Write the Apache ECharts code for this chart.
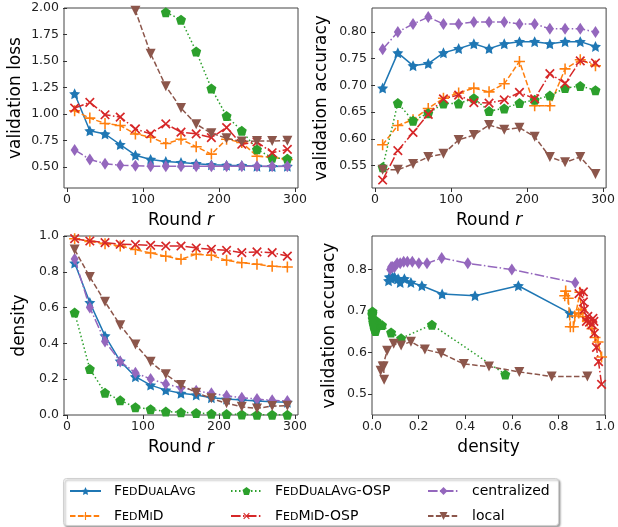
<!DOCTYPE html>
<html><head><meta charset="utf-8">
<script src="https://cdn.jsdelivr.net/npm/echarts@6/dist/echarts.min.js"></script>
<style>html,body{margin:0;padding:0;background:#fff}#c{width:618px;height:527px}</style>
</head><body><div id="c"></div>
<script>
// ---------- data ----------
const rounds = [10,30,50,70,90,110,130,150,170,190,210,230,250,270,290];

// validation loss (top-left); early OSP / local values lie above the 2.0 axis limit
const lossDualAvg    = [1.19,0.84,0.81,0.71,0.61,0.57,0.55,0.54,0.53,0.52,0.515,0.513,0.506,0.503,0.506];
const lossMiD        = [1.03,0.96,0.91,0.89,0.81,0.78,0.72,0.76,0.69,0.62,0.76,0.73,0.60,0.59,0.57];
const lossDualAvgOSP = [9.5,8.2,6.9,5.6,4.3,3.1,1.96,1.89,1.59,1.24,0.98,0.84,0.665,0.586,0.576];
const lossMiDOSP     = [1.055,1.109,0.992,0.970,0.858,0.811,0.906,0.827,0.811,0.776,0.871,0.713,0.735,0.633,0.665];
const lossCentral    = [0.66,0.57,0.53,0.515,0.51,0.505,0.505,0.505,0.505,0.505,0.505,0.505,0.505,0.505,0.505];
const lossLocal      = [3.6,3.2,2.85,2.45,1.975,1.569,1.261,1.055,0.903,0.817,0.770,0.738,0.744,0.744,0.747];

// validation accuracy (top-right)
const accDualAvg    = [0.695,0.761,0.737,0.741,0.761,0.769,0.778,0.769,0.778,0.782,0.782,0.778,0.782,0.782,0.773];
const accMiD        = [0.589,0.625,0.636,0.657,0.676,0.686,0.695,0.688,0.703,0.745,0.662,0.662,0.731,0.748,0.737];
const accDualAvgOSP = [0.547,0.667,0.634,0.648,0.666,0.666,0.676,0.652,0.657,0.667,0.673,0.681,0.695,0.699,0.691];
const accMiDOSP     = [0.523,0.578,0.612,0.646,0.675,0.682,0.668,0.667,0.673,0.687,0.675,0.722,0.704,0.746,0.742];
const accCentral    = [0.768,0.800,0.815,0.828,0.815,0.815,0.819,0.819,0.819,0.815,0.815,0.806,0.806,0.806,0.800];
const accLocal      = [0.542,0.542,0.553,0.566,0.572,0.598,0.607,0.626,0.617,0.621,0.604,0.566,0.556,0.566,0.534];

// density (bottom-left)
const densDualAvg    = [0.849,0.628,0.442,0.301,0.214,0.167,0.139,0.121,0.112,0.097,0.089,0.084,0.078,0.074,0.071];
const densMiD        = [0.985,0.970,0.957,0.944,0.924,0.905,0.887,0.870,0.898,0.892,0.864,0.851,0.842,0.831,0.827];
const densDualAvgOSP = [0.572,0.257,0.125,0.082,0.043,0.032,0.019,0.015,0.011,0.007,0.005,0.003,0.002,0.002,0.001];
const densMiDOSP     = [0.985,0.972,0.963,0.954,0.952,0.948,0.944,0.944,0.933,0.926,0.920,0.907,0.911,0.907,0.888];
const densCentral    = [0.872,0.600,0.411,0.299,0.236,0.201,0.173,0.152,0.136,0.121,0.108,0.097,0.089,0.082,0.078];
const densLocal      = [0.924,0.771,0.632,0.502,0.394,0.297,0.227,0.167,0.125,0.093,0.065,0.046,0.037,0.050,0.052];

const roundTicks = [0,100,200,300];
const lossTicks  = [0.50,0.75,1.00,1.25,1.50,1.75,2.00];
const accTicks   = [0.55,0.60,0.65,0.70,0.75,0.80];
const densTicks  = [0.0,0.2,0.4,0.6,0.8,1.0];
const accTicks2  = [0.5,0.6,0.7,0.8];
const densTicksX = [0.0,0.2,0.4,0.6,0.8,1.0];

const names = ['FedDualAvg','FedMiD','FedDualAvg-OSP','FedMiD-OSP','centralized','local'];
const lossData = [lossDualAvg,lossMiD,lossDualAvgOSP,lossMiDOSP,lossCentral,lossLocal];
const accData  = [accDualAvg,accMiD,accDualAvgOSP,accMiDOSP,accCentral,accLocal];
const densData = [densDualAvg,densMiD,densDualAvgOSP,densMiDOSP,densCentral,densLocal];

// ---------- styles ----------
const FONT = 'DejaVu Sans';
const STAR = 'path://M0,-10 L2.94,-4.05 9.51,-3.09 4.76,1.55 5.88,8.09 0,5 -5.88,8.09 -4.76,1.55 -9.51,-3.09 -2.94,-4.05 Z';
const PENT = 'path://M0,-10 L9.51,-3.09 5.88,8.09 -5.88,8.09 -9.51,-3.09 Z';
const PLUS = 'path://M-1.4,-10 L1.4,-10 1.4,-1.4 10,-1.4 10,1.4 1.4,1.4 1.4,10 -1.4,10 -1.4,1.4 -10,1.4 -10,-1.4 -1.4,-1.4 Z';
const LW = 1.5;
const styles = {
  'FedDualAvg':     {color:'#1f77b4', symbol:STAR, size:11, rot:0,   dash:'solid'},
  'FedMiD':         {color:'#ff7f0e', symbol:PLUS, size:11, rot:0,   dash:[5.5,2.4]},
  'FedDualAvg-OSP': {color:'#2ca02c', symbol:PENT, size:10, rot:0,   dash:[1.5,2.5]},
  'FedMiD-OSP':     {color:'#d62728', symbol:PLUS, size:12, rot:45,  dash:[9.6,2.4,1.5,2.4]},
  'centralized':    {color:'#9467bd', symbol:'diamond', size:[8,12], rot:0, dash:[9.6,2.4,1.5,2.4]},
  'local':          {color:'#8c564b', symbol:'triangle', size:10, rot:180, dash:[5.5,2.4]}
};

const grids = [
  {left:64,  top:8,   width:234, height:180},
  {left:372, top:8,   width:235, height:180},
  {left:64,  top:236, width:234, height:179},
  {left:372, top:236, width:235, height:179}
];

function axis(gi, min, max, ticks, fmt, name, gap) {
  return {
    type:'value', gridIndex:gi, min:min, max:max,
    name:name, nameLocation:'middle', nameGap:gap,
    nameTextStyle:{fontFamily:FONT, fontSize:17, color:'#000',
      rich:{a:{fontFamily:FONT, fontSize:17, color:'#000'},
            i:{fontFamily:FONT, fontSize:17, fontStyle:'italic', color:'#000'}}},
    axisLine:{show:false},
    axisTick:{show:true, inside:false, length:4, lineStyle:{color:'#333', width:1}, customValues:ticks},
    axisLabel:{show:true, fontFamily:FONT, fontSize:12.5, color:'#222', margin:5,
      customValues:ticks, formatter:fmt},
    splitLine:{show:false}
  };
}
const f0 = v => String(Math.round(v));
const f1 = v => v.toFixed(1);
const f2 = v => v.toFixed(2);
const roundName = '{a|Round }{i|r}';

const xAxes = [
  axis(0, -4, 304, roundTicks, f0, roundName, 24),
  axis(1, -4, 304, roundTicks, f0, roundName, 24),
  axis(2, -4, 304, roundTicks, f0, roundName, 24),
  axis(3, 0, 1, densTicksX, f1, 'density', 24)
];
const yAxes = [
  axis(0, 0.30, 2.0, lossTicks, f2, 'validation loss', 40),
  axis(1, 0.508, 0.845, accTicks, f2, 'validation accuracy', 42),
  axis(2, 0, 1, densTicks, f1, 'density', 36),
  axis(3, 0.449, 0.881, accTicks2, f1, 'validation accuracy', 34)
];

const series = [];
function addSeries(gi, k, pts) {
  const s = styles[names[k]];
  series.push({
    type:'line', name:names[k], xAxisIndex:gi, yAxisIndex:gi, data:pts,
    clip:true, showSymbol:true, symbol:s.symbol, symbolSize:s.size, symbolRotate:s.rot,
    itemStyle:{color:s.color, borderWidth:0},
    lineStyle:{color:s.color, width:LW, type:s.dash},
    emphasis:{disabled:true}, animation:false, z:2+k
  });
}
names.forEach((n,k) => {
  addSeries(0, k, rounds.map((r,i) => [r, lossData[k][i]]));
  addSeries(1, k, rounds.map((r,i) => [r, accData[k][i]]));
  addSeries(2, k, rounds.map((r,i) => [r, densData[k][i]]));
  addSeries(3, k, rounds.map((r,i) => [densData[k][i], accData[k][i]]));
});

const labelRich = {
  'FedDualAvg': '{C|F}{s|ED}{C|D}{s|UAL}{C|A}{s|VG}',
  'FedMiD': '{C|F}{s|ED}{C|M}{s|I}{C|D}',
  'FedDualAvg-OSP': '{C|F}{s|ED}{C|D}{s|UAL}{C|A}{s|VG}{C|-OSP}',
  'FedMiD-OSP': '{C|F}{s|ED}{C|M}{s|I}{C|D-OSP}',
  'centralized': '{C|centralized}',
  'local': '{C|local}'
};
function legend(left, data) {
  return {
    orient:'vertical', left:left, top:484, itemWidth:31, itemHeight:10, itemGap:11,
    data:data, selectedMode:false, padding:0,
    formatter: n => labelRich[n],
    textStyle:{fontFamily:FONT, fontSize:14, color:'#000', padding:[0,0,0,8],
      rich:{C:{fontFamily:FONT, fontSize:14, color:'#000', verticalAlign:'bottom'},
            s:{fontFamily:FONT, fontSize:11, color:'#000', verticalAlign:'bottom'}}}
  };
}

const option = {
  backgroundColor:'#fff', animation:false,
  grid: grids.map(g => Object.assign({show:true, borderColor:'#444', borderWidth:1, backgroundColor:'transparent'}, g)),
  xAxis: xAxes, yAxis: yAxes, series: series,
  legend: [
    legend(69,  ['FedDualAvg','FedMiD']),
    legend(230, ['FedDualAvg-OSP','FedMiD-OSP']),
    legend(427, ['centralized','local'])
  ],
  graphic: [{type:'rect', left:63, top:478, z:-1, silent:true,
    shape:{width:495, height:47, r:3},
    style:{fill:'#fff', stroke:'#d0d0d0', lineWidth:1, shadowBlur:2, shadowOffsetX:1.5, shadowOffsetY:1.5, shadowColor:'rgba(0,0,0,0.35)'}}]
};
const chart = echarts.init(document.getElementById('c'), null, {renderer:'canvas'});
chart.setOption(option);
</script></body></html>
